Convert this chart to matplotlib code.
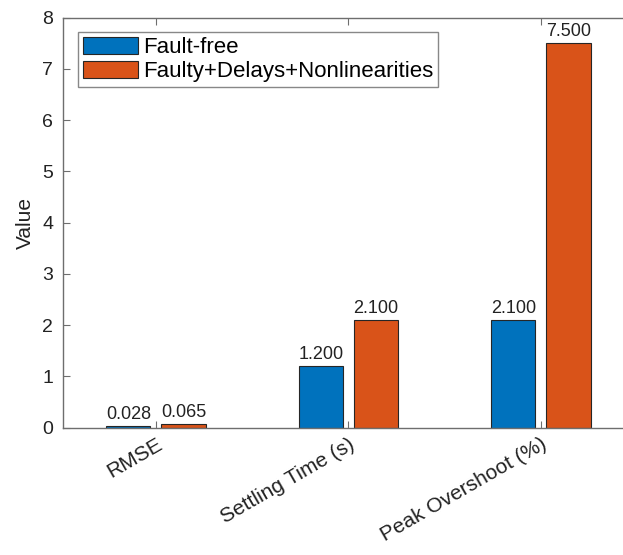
import matplotlib
matplotlib.use("Agg")
import matplotlib.pyplot as plt
from matplotlib.transforms import ScaledTranslation
import numpy as np

plt.rcParams['font.family'] = ['Liberation Sans', 'DejaVu Sans']

categories = ['RMSE', 'Settling Time (s)', 'Peak Overshoot (%)']
fault_free = [0.028, 1.2, 2.1]
faulty = [0.065, 2.1, 7.5]
series_names = ['Fault-free', 'Faulty+Delays+Nonlinearities']

blue = '#0072BD'
orange = '#D95319'
axis_col = '#6e6e6e'
text_col = '#222222'

fig = plt.figure(figsize=(6.23, 5.55), dpi=100)
ax = fig.add_axes([0.1011, 0.2294, 0.9217, 0.7387])

x = np.arange(1, len(categories) + 1)
w = 0.229
off = 0.143
b1 = ax.bar(x - off, fault_free, w, color=blue, edgecolor='#262626', linewidth=0.8, label=series_names[0])
b2 = ax.bar(x + off, faulty, w, color=orange, edgecolor='#262626', linewidth=0.8, label=series_names[1])

for bars in (b1, b2):
    for r in bars:
        ax.annotate(f'{r.get_height():.3f}', (r.get_x() + r.get_width() / 2, r.get_height()),
                    xytext=(0, 2.5), textcoords='offset points', ha='center', va='bottom',
                    fontsize=13, color=text_col)

ax.set_xlim(0.517, 3.5)
ax.set_ylim(0, 8)
ax.set_xticks(x)
ax.set_xticklabels(categories, rotation=30, ha='right', va='top', rotation_mode='anchor',
                   fontsize=15, color=text_col)
# shift the rotated labels a bit right, like MATLAB places them
shift = ScaledTranslation(9 / 100, 0, fig.dpi_scale_trans)
for lbl in ax.get_xticklabels():
    lbl.set_transform(lbl.get_transform() + shift)
ax.set_yticks(range(0, 9))
ax.tick_params(axis='y', labelsize=14, labelcolor=text_col, direction='in', length=5, color=axis_col, pad=7)
ax.tick_params(axis='x', direction='in', length=5, color=axis_col, top=True, pad=5)
ax.set_ylabel('Value', fontsize=15, color=text_col, labelpad=5)

for s in ('left', 'bottom', 'top'):
    ax.spines[s].set_color(axis_col)
    ax.spines[s].set_linewidth(1.0)
ax.spines['right'].set_visible(False)

leg = ax.legend(loc='upper left', bbox_to_anchor=(0.026, 0.965), borderaxespad=0,
                fontsize=16, fancybox=False, framealpha=1, edgecolor='#888888',
                handlelength=2.5, handleheight=0.8, handletextpad=0.22,
                labelspacing=0.12, borderpad=0.22)
leg.get_frame().set_linewidth(1.0)

fig.savefig('out.png', dpi=100)
